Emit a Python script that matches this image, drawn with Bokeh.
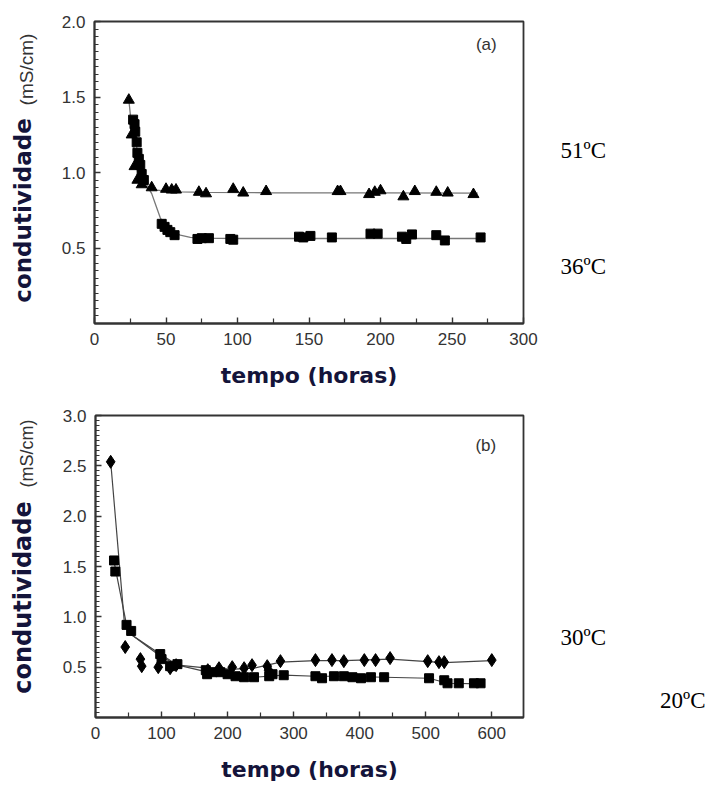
import math
from bokeh.plotting import figure
from bokeh.models import Range1d, FixedTicker, Label, PrintfTickFormatter
from bokeh.layouts import column, row
from bokeh.embed import file_html
from bokeh.resources import INLINE

# ---------------- data: panel (a) ----------------
t51_x = [24, 26, 28, 30, 33, 40, 50, 54, 57, 73, 78, 97, 104, 120, 170, 172, 192, 196, 200, 216, 224, 239, 247, 265]
t51_y = [1.48, 1.25, 1.04, 0.95, 0.92, 0.90, 0.89, 0.885, 0.885, 0.87, 0.86, 0.89, 0.865, 0.875, 0.875, 0.875,
         0.855, 0.87, 0.88, 0.84, 0.875, 0.87, 0.865, 0.855]
t36_x = [27, 28, 28.5, 29.5, 30, 31, 32, 33, 34.5, 47, 49, 51, 53, 56, 72, 75, 80, 95, 97, 143, 146, 151, 166,
         193, 198, 215, 218, 222, 239, 245, 270]
t36_y = [1.35, 1.32, 1.27, 1.20, 1.13, 1.09, 1.05, 0.99, 0.95, 0.66, 0.64, 0.62, 0.605, 0.585, 0.56, 0.565, 0.565,
         0.56, 0.555, 0.575, 0.57, 0.58, 0.57, 0.595, 0.595, 0.575, 0.56, 0.59, 0.585, 0.55, 0.57]
fit51_x = [24, 26, 28, 30, 33, 37, 42, 50, 60, 80, 120, 200, 268]
fit51_y = [1.48, 1.30, 1.13, 1.01, 0.93, 0.895, 0.885, 0.877, 0.872, 0.868, 0.866, 0.865, 0.864]
fit36_x = [27, 29, 31, 34, 37, 40, 43, 46, 50, 55, 60, 67, 75, 100, 150, 270]
fit36_y = [1.35, 1.20, 1.08, 0.97, 0.91, 0.86, 0.78, 0.70, 0.64, 0.605, 0.585, 0.57, 0.565, 0.563, 0.563, 0.563]

# ---------------- data: panel (b) ----------------
t30_x = [23, 45, 68, 70, 95, 113, 122, 170, 187, 207, 225, 237, 260, 262, 280, 333, 358, 376, 407, 424, 446,
         503, 520, 528, 600]
t30_y = [2.54, 0.70, 0.58, 0.51, 0.50, 0.49, 0.52, 0.47, 0.49, 0.50, 0.49, 0.52, 0.51, 0.47, 0.56, 0.57, 0.57,
         0.56, 0.57, 0.57, 0.59, 0.56, 0.55, 0.55, 0.57]
t20_x = [28, 30, 47, 54, 98, 100, 113, 124, 167, 169, 177, 189, 200, 212, 225, 240, 263, 268, 285, 333, 343,
         361, 376, 389, 402, 417, 437, 505, 528, 533, 550, 573, 583]
t20_y = [1.56, 1.45, 0.92, 0.86, 0.63, 0.58, 0.51, 0.53, 0.47, 0.43, 0.45, 0.45, 0.43, 0.41, 0.40, 0.40, 0.41,
         0.43, 0.42, 0.41, 0.39, 0.41, 0.41, 0.40, 0.39, 0.40, 0.40, 0.39, 0.37, 0.34, 0.34, 0.34, 0.34]
line30_x = [23, 44, 55, 100, 125, 170, 210, 240, 280, 333, 376, 446, 503, 528, 600]
line30_y = [2.54, 0.92, 0.82, 0.62, 0.52, 0.49, 0.48, 0.49, 0.55, 0.565, 0.565, 0.58, 0.555, 0.545, 0.565]
line20_x = [28, 47, 55, 100, 125, 170, 210, 240, 285, 333, 376, 437, 505, 533, 583]
line20_y = [1.55, 0.92, 0.82, 0.60, 0.52, 0.45, 0.42, 0.40, 0.42, 0.41, 0.41, 0.40, 0.39, 0.34, 0.335]

# ---------------- ticks / labels ----------------
xa_major = [0, 50, 100, 150, 200, 250, 300]
xa_minor = [25, 75, 125, 175, 225, 275]
ya_major = [0.5, 1.0, 1.5, 2.0]
xb_major = [0, 100, 200, 300, 400, 500, 600]
xb_minor = [50, 150, 250, 350, 450, 550]
yb_major = [0.5, 1.0, 1.5, 2.0, 2.5, 3.0]
x_title = "tempo (horas)"
y_title = "condutividade"
y_unit = "(mS/cm)"
labels_a = ["51ºC", "36ºC"]
labels_b = ["30ºC", "20ºC"]

TICK_FONT = "Liberation Sans"
TITLE_COLOR = "#14143a"
LEFT_W = 50
RIGHT_W = 163
MAIN_W = 706 - LEFT_W - RIGHT_W
HA = 395
HB = 391
# frame extents (page pixels)
A_TOP, A_BOT = 21, 323
B_TOP, B_BOT = 415, 717


def style(p, xmaj, xmin, ymaj, ymin):
    p.xgrid.visible = False
    p.ygrid.visible = False
    p.outline_line_color = "#333333"
    p.outline_line_width = 1.8
    p.xaxis.ticker = FixedTicker(ticks=xmaj, minor_ticks=xmin)
    p.yaxis.ticker = FixedTicker(ticks=ymaj, minor_ticks=ymin)
    p.yaxis.formatter = PrintfTickFormatter(format="%.1f")
    for ax in (p.xaxis[0], p.yaxis[0]):
        ax.axis_line_color = "#333333"
        ax.axis_line_width = 1.8
        ax.major_tick_in = 6
        ax.major_tick_out = 0
        ax.minor_tick_in = 4
        ax.minor_tick_out = 0
        ax.major_tick_line_color = "#333333"
        ax.minor_tick_line_color = "#333333"
        ax.major_tick_line_width = 1.4
        ax.minor_tick_line_width = 1.2
        ax.major_label_text_font = TICK_FONT
        ax.major_label_text_font_size = "17px"
        ax.major_label_text_color = "#333333"
        ax.major_label_standoff = 9
    p.xaxis.minor_tick_in = 5
    p.xaxis.axis_label = x_title
    p.xaxis.axis_label_text_font = "DejaVu Sans"
    p.xaxis.axis_label_text_font_style = "bold"
    p.xaxis.axis_label_text_font_size = "22px"
    p.xaxis.axis_label_text_color = TITLE_COLOR
    p.xaxis.axis_label_standoff = 15


def side_fig(width, height, x0, top, bot, row_top):
    # frame spans the same rows as the main plot; data units == page pixels
    s = figure(width=width, height=height, output_backend="svg", toolbar_location=None,
               x_range=Range1d(x0, x0 + width), y_range=Range1d(bot, top),
               min_border_left=0, min_border_right=0,
               min_border_top=top - row_top, min_border_bottom=row_top + height - bot)
    s.axis.visible = False
    s.xgrid.visible = False
    s.ygrid.visible = False
    s.outline_line_color = None
    return s


def ytitle(s, yc_title, yc_unit, title_size, unit_size):
    s.add_layout(Label(x=22, y=yc_title, text=y_title, angle=math.pi / 2, text_font="DejaVu Sans",
                       text_font_style="bold", text_font_size=title_size, text_color=TITLE_COLOR,
                       text_align="center", text_baseline="middle"))
    s.add_layout(Label(x=26, y=yc_unit, text=y_unit, angle=math.pi / 2, text_font=TICK_FONT,
                       text_font_size=unit_size, text_color="#333333",
                       text_align="center", text_baseline="middle"))


def temp(s, x, y, txt, align="left"):
    s.add_layout(Label(x=x, y=y, text=txt, text_font="Liberation Serif", text_font_size="23px",
                       text_color="black", text_align=align, text_baseline="middle"))


# ---------------- panel (a) ----------------
pa = figure(width=MAIN_W, height=HA, output_backend="svg", toolbar_location=None,
            x_range=Range1d(0, 300), y_range=Range1d(0, 2.0),
            min_border_left=94 - LEFT_W, min_border_right=MAIN_W - (94 - LEFT_W) - 429,
            min_border_top=A_TOP, min_border_bottom=HA - A_BOT)
style(pa, xa_major, xa_minor, ya_major, [round(0.05 * i, 2) for i in range(1, 40) if i % 10 != 0])
pa.line(fit51_x, fit51_y, line_color="#777777", line_width=1.3)
pa.line(fit36_x, fit36_y, line_color="#777777", line_width=1.3)
pa.scatter(t51_x, t51_y, marker="triangle", size=11, fill_color="black", line_color="black")
pa.scatter(t36_x, t36_y, marker="square", size=9, fill_color="black", line_color="black")
pa.add_layout(Label(x=274, y=1.85, text="(a)", text_font=TICK_FONT, text_font_size="17px",
                    text_color="#333333", text_align="center", text_baseline="middle"))
la = side_fig(LEFT_W, HA, 0, A_TOP, A_BOT, 0)
ytitle(la, 210, 69, "23px", "19px")
ra = side_fig(RIGHT_W, HA, 706 - RIGHT_W, A_TOP, A_BOT, 0)
temp(ra, 560, 150, labels_a[0])
temp(ra, 560, 266, labels_a[1])

# ---------------- panel (b) ----------------
pb = figure(width=MAIN_W, height=HB, output_backend="svg", toolbar_location=None,
            x_range=Range1d(0, 648), y_range=Range1d(0, 3.0),
            min_border_left=95 - LEFT_W, min_border_right=MAIN_W - (95 - LEFT_W) - 428,
            min_border_top=B_TOP - HA, min_border_bottom=HA + HB - B_BOT)
style(pb, xb_major, xb_minor, yb_major, [round(0.05 * i, 2) for i in range(1, 60) if i % 10 != 0])
pb.line(line30_x, line30_y, line_color="#444444", line_width=1.2)
pb.line(line20_x, line20_y, line_color="#444444", line_width=1.2)
pb.scatter(t30_x, t30_y, marker="diamond", size=13, fill_color="black", line_color="black")
pb.scatter(t20_x, t20_y, marker="square", size=9, fill_color="black", line_color="black")
pb.add_layout(Label(x=591, y=2.70, text="(b)", text_font=TICK_FONT, text_font_size="17px",
                    text_color="#333333", text_align="center", text_baseline="middle"))
lb = side_fig(LEFT_W, HB, 0, B_TOP, B_BOT, HA)
ytitle(lb, 597, 453, "24px", "18px")
rb = side_fig(RIGHT_W, HB, 706 - RIGHT_W, B_TOP, B_BOT, HA)
temp(rb, 560, 637, labels_b[0])
temp(rb, 705, 700, labels_b[1], align="right")

layout = column(row(la, pa, ra), row(lb, pb, rb))
open("out.html", "w").write(file_html(layout, INLINE))
